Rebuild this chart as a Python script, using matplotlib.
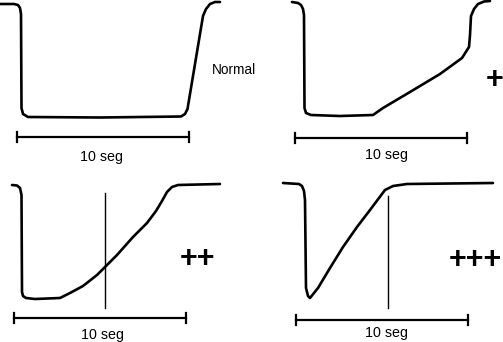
import matplotlib
matplotlib.use("Agg")
import matplotlib.pyplot as plt

# Trace coordinates for each grade (horizontal position, vertical level; y grows downward)
normal_x = [0, 14, 18, 20, 21, 21.5, 23, 28, 100, 181, 185, 187.5, 203, 206, 210, 215, 220]
normal_y = [4, 4, 5, 8, 14, 108, 114, 117, 117.5, 116.5, 114, 109, 16, 9, 4, 2, 2]

plus1_x = [292, 298, 301, 303, 304, 304.5, 306, 311, 340, 373, 383, 410, 440, 462, 469, 470, 471, 474, 478, 484, 490]
plus1_y = [2, 3, 5, 9, 15, 108, 113, 115, 116, 115, 108, 92, 74, 58, 47, 35, 16, 9, 4, 1.5, 1]

plus2_x = [12, 17, 20, 21.5, 22, 23, 26, 35, 60, 70, 83, 97, 105, 117, 133, 147, 156, 162, 167, 172, 178, 220]
plus2_y = [185, 185.5, 188, 195, 292, 296, 298, 299, 298, 293, 286, 275, 267, 255, 237, 223, 211, 201, 192, 187, 185, 184]

plus3_x = [283, 299, 302, 304, 305, 306, 308, 310, 318, 330, 343, 357, 370, 385, 393, 407, 493]
plus3_y = [183, 184, 186, 191, 200, 288, 296, 298, 288, 268, 247, 227, 210, 190, 186, 184, 183]

grade_labels = ["Normal", "+", "++", "+++"]
scale_label = "10 seg"

fig = plt.figure(figsize=(5.03, 3.42), dpi=100)
ax = fig.add_axes([0, 0, 1, 1])
ax.set_xlim(0, 503)
ax.set_ylim(342, 0)
ax.axis("off")

curve_kw = dict(color="black", lw=1.9, solid_joinstyle="round", solid_capstyle="round")
for xs, ys in [(normal_x, normal_y), (plus1_x, plus1_y), (plus2_x, plus2_y), (plus3_x, plus3_y)]:
    ax.plot(xs, ys, **curve_kw)

# vertical markers
ax.plot([105, 105], [193, 308], color="black", lw=1.0)
ax.plot([388, 388], [196, 308], color="black", lw=1.0)

# 10 s scale bars
bars = [(17, 189, 137), (295, 467, 138), (14, 186, 318), (296, 468, 320)]
for x0, x1, y in bars:
    ax.plot([x0, x1], [y, y], color="black", lw=1.6)
    ax.plot([x0, x0], [y - 5, y + 5], color="black", lw=1.6)
    ax.plot([x1, x1], [y - 5, y + 5], color="black", lw=1.6)

text_pos = [(102, 157), (387, 155), (103, 335), (387, 333)]
for x, y in text_pos:
    ax.text(x, y, scale_label, ha="center", va="center", fontsize=10.3,
            family="Liberation Sans")

ax.text(233.5, 70, grade_labels[0], ha="center", va="center", fontsize=9.8,
        family="Liberation Sans")
plus_kw = dict(ha="center", va="center", fontsize=22, fontweight="bold",
               family="Liberation Sans")
ax.text(495, 80, grade_labels[1], **plus_kw)
ax.text(197.5, 259, grade_labels[2], **plus_kw)
ax.text(475, 260, grade_labels[3], **plus_kw)

fig.savefig("out.png", dpi=100, facecolor="white")
